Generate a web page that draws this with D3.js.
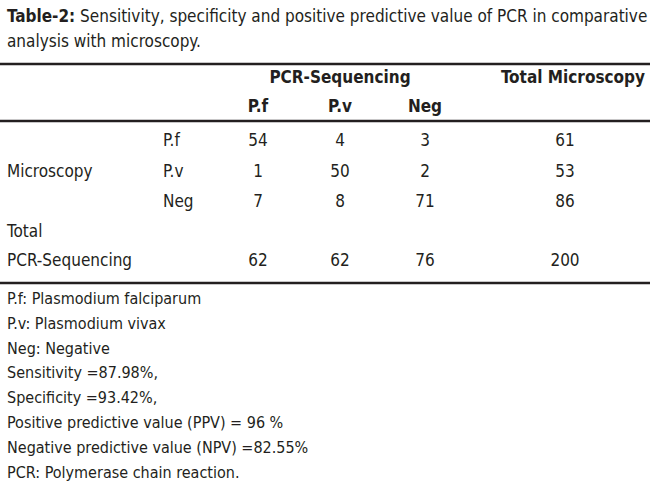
<!DOCTYPE html>
<html><head><meta charset="utf-8">
<script src="https://cdn.jsdelivr.net/npm/d3@7"></script>
<style>body{margin:0;background:#fff}</style>
</head><body>
<svg id="c" width="650" height="496"></svg>
<script>
var colHeaders = ["P.f", "P.v", "Neg"];
var rowLabels = ["P.f", "P.v", "Neg"];
var counts = [[54, 4, 3], [1, 50, 2], [7, 8, 71]];
var rowTotals = [61, 53, 86];
var colTotals = [62, 62, 76];
var grandTotal = 200;
var notes = ["P.f: Plasmodium falciparum", "P.v: Plasmodium vivax", "Neg: Negative",
  "Sensitivity =87.98%,", "Specificity =93.42%,", "Positive predictive value (PPV) = 96 %",
  "Negative predictive value (NPV) =82.55%", "PCR: Polymerase chain reaction."];

var FONT = "'Liberation Sans Narrow','DejaVu Sans Condensed',sans-serif";
var svg = d3.select("#c").style("font-family", FONT).style("font-size", "17px").attr("fill", "#231f20");

var x = d3.scalePoint().domain(["P.f", "P.v", "Neg", "Total"]).range([258, 565]);
x = d3.scaleOrdinal().domain(["P.f", "P.v", "Neg", "Total"]).range([258, 340, 425, 565]);
var y = d3.scaleOrdinal().domain([0, 1, 2]).range([146, 177, 207]);

var t = svg.append("text").attr("x", 7).attr("y", 22);
t.append("tspan").attr("font-weight", "bold").text("Table-2:");
t.append("tspan").text(" Sensitivity, specificity and positive predictive value of PCR in comparative");
svg.append("text").attr("x", 7).attr("y", 47).text("analysis with microscopy.");

[64, 121, 283].forEach(function(v){
  svg.append("line").attr("x1", 0).attr("x2", 650).attr("y1", v).attr("y2", v)
    .attr("stroke", "#231f20").attr("stroke-width", 2.5);
});

svg.append("text").attr("x", 340).attr("y", 83).attr("text-anchor", "middle").attr("font-weight", "bold").text("PCR-Sequencing");
svg.append("text").attr("x", 645).attr("y", 83).attr("text-anchor", "end").attr("font-weight", "bold").text("Total Microscopy");
svg.selectAll(".ch").data(colHeaders).enter().append("text")
  .attr("x", function(d){ return x(d); }).attr("y", 112).attr("text-anchor", "middle").attr("font-weight", "bold").text(function(d){ return d; });

svg.append("text").attr("x", 7).attr("y", 177).text("Microscopy");
svg.selectAll(".rl").data(rowLabels).enter().append("text")
  .attr("x", 163).attr("y", function(d, i){ return y(i); }).text(function(d){ return d; });

counts.forEach(function(row, i){
  row.forEach(function(v, j){
    svg.append("text").attr("x", x(colHeaders[j])).attr("y", y(i)).attr("text-anchor", "middle").text(v);
  });
  svg.append("text").attr("x", x("Total")).attr("y", y(i)).attr("text-anchor", "middle").text(rowTotals[i]);
});

svg.append("text").attr("x", 7).attr("y", 237).text("Total");
svg.append("text").attr("x", 7).attr("y", 266).text("PCR-Sequencing");
colTotals.forEach(function(v, j){
  svg.append("text").attr("x", x(colHeaders[j])).attr("y", 266).attr("text-anchor", "middle").text(v);
});
svg.append("text").attr("x", x("Total")).attr("y", 266).attr("text-anchor", "middle").text(grandTotal);

svg.selectAll(".nt").data(notes).enter().append("text")
  .attr("x", 7).attr("y", function(d, i){ return 304 + i * 24.8; }).attr("font-size", "16px").text(function(d){ return d; });
</script>
</body></html>
